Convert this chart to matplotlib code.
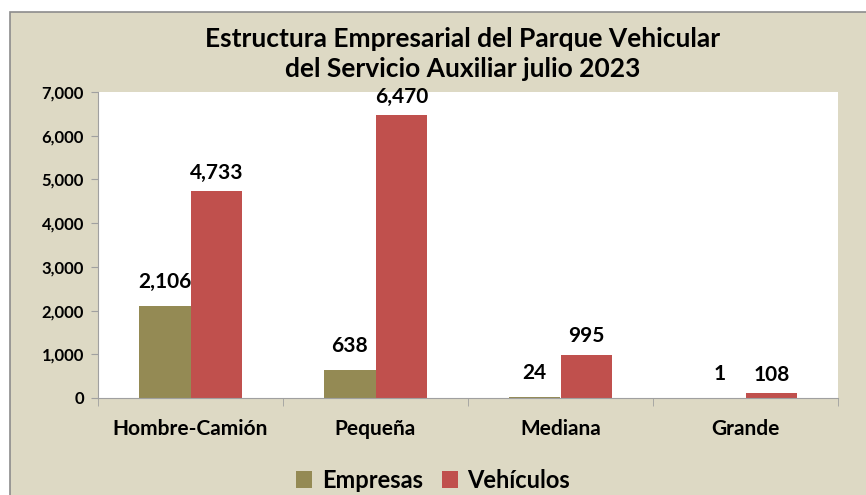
import numpy as np
import matplotlib.pyplot as plt
from matplotlib.patches import Rectangle

# Data
categorias = ["Hombre-Camión", "Pequeña", "Mediana", "Grande"]
empresas = [2106, 638, 24, 1]
vehiculos = [4733, 6470, 995, 108]

plt.rcParams["font.family"] = ["Lato", "DejaVu Sans"]
plt.rcParams["font.weight"] = "bold"

fig = plt.figure(figsize=(8.66, 4.95), dpi=100, facecolor="white")

# Beige chart area with thin border
fig.patches.append(Rectangle((10 / 866, -0.01), 1.0, 1 - 12 / 495 + 0.01,
                             transform=fig.transFigure, facecolor="#DDD9C4",
                             edgecolor="#8C8C8C", linewidth=1.2, zorder=-1))

ax = fig.add_axes([98 / 866, 97 / 495, 740 / 866, 306 / 495])
ax.set_facecolor("white")

x = np.arange(len(categorias))
w = 0.28
b1 = ax.bar(x - w / 2, empresas, w, color="#948A54", label="Empresas")
b2 = ax.bar(x + w / 2, vehiculos, w, color="#C0504D", label="Vehículos")

# Data labels
for bars, off in [(b1, 10), (b2, 6)]:
    for rect in bars:
        h = rect.get_height()
        ax.annotate(f"{h:,.0f}", (rect.get_x() + rect.get_width() / 2, h),
                    xytext=(0, off), textcoords="offset points",
                    ha="center", va="bottom", fontsize=15, fontweight="bold")

ax.set_xlim(-0.5, len(categorias) - 0.5)
ax.set_ylim(0, 7000)
ax.set_yticks(range(0, 7001, 1000))
ax.set_yticklabels([f"{v:,}" for v in range(0, 7001, 1000)], fontsize=12, fontweight="bold")
ax.set_xticks(x)
ax.set_xticklabels(categorias, fontsize=15, fontweight="bold")
ax.set_xticks(np.arange(-0.5, len(categorias)), minor=True)
ax.tick_params(axis="x", which="major", length=0, pad=15)
ax.tick_params(axis="x", which="minor", length=6, color="#A0A0A0", direction="out")
ax.tick_params(axis="y", length=5, color="#A0A0A0", pad=5)

for s in ["top", "right"]:
    ax.spines[s].set_visible(False)
for s in ["left", "bottom"]:
    ax.spines[s].set_color("#A0A0A0")

fig.text(463 / 866, 1 - 54 / 495,
         "Estructura Empresarial del Parque Vehicular\ndel Servicio Auxiliar julio 2023",
         ha="center", va="center", fontsize=19, fontweight="bold", linespacing=1.3)

fig.legend(handles=[b1, b2], loc="center", bbox_to_anchor=(433 / 866, 1 - 480 / 495),
           ncol=2, frameon=False, handlelength=0.7, handleheight=0.7,
           handletextpad=0.4, columnspacing=0.8, prop={"size": 17, "weight": "bold"})

fig.savefig("out.png", dpi=100, facecolor=fig.get_facecolor())
